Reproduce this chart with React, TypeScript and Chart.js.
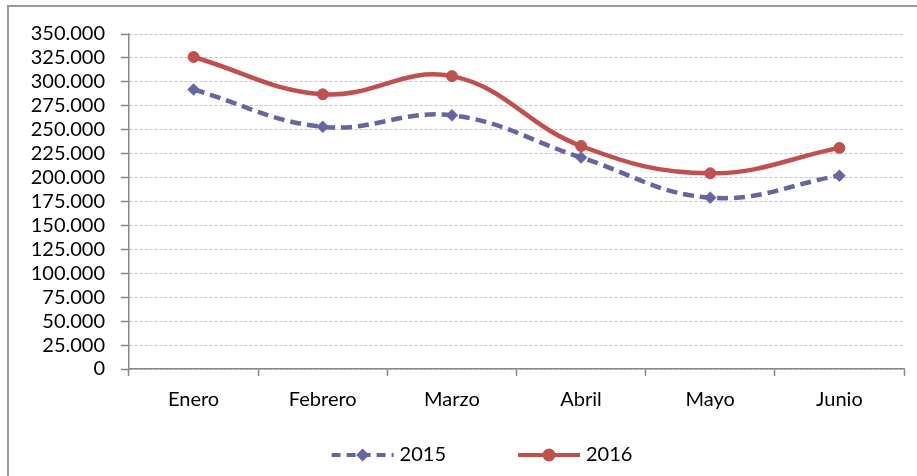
import React, { useEffect, useRef } from 'react';
import { Chart, registerables } from 'chart.js';

Chart.register(...registerables);

const categories = ['Enero', 'Febrero', 'Marzo', 'Abril', 'Mayo', 'Junio'];
const seriesNames = ['2015', '2016'];
const values2015 = [292000, 253000, 265000, 221000, 179000, 202000];
const values2016 = [326000, 287000, 306000, 233000, 204500, 231000];
const yMin = 0;
const yMax = 350000;
const yStep = 25000;

const COLOR_2015 = '#65659f';
const COLOR_2016 = '#c0504d';
const FONT_FAMILY = 'Lato';
const FONT_SIZE = 20;
const FONT = { family: FONT_FAMILY, size: FONT_SIZE };

function fmt(v: number): string {
  return Math.round(v).toString().replace(/\B(?=(\d{3})+(?!\d))/g, '.');
}

// Custom bottom legend: sample line with marker, then label text.
const LEGEND = { centerX: 482, centerY: 455, sampleW: 62, textGap: 6, itemGap: 72 };

const lineLegendPlugin = {
  id: 'lineLegend',
  afterDraw(chart: any) {
    const ctx: CanvasRenderingContext2D = chart.ctx;
    const dsList = chart.data.datasets;
    ctx.save();
    ctx.font = `${FONT_SIZE}px ${FONT_FAMILY}`;
    const widths = dsList.map(
      (ds: any) => LEGEND.sampleW + LEGEND.textGap + ctx.measureText(ds.label).width
    );
    const total =
      widths.reduce((a: number, b: number) => a + b, 0) + LEGEND.itemGap * (dsList.length - 1);
    let x = LEGEND.centerX - total / 2;
    const y = LEGEND.centerY;
    dsList.forEach((ds: any, i: number) => {
      ctx.strokeStyle = ds.borderColor;
      ctx.lineWidth = 4;
      ctx.setLineDash(ds.borderDash ? [9, 6] : []);
      ctx.lineDashOffset = 0;
      ctx.beginPath();
      ctx.moveTo(x, y);
      ctx.lineTo(x + LEGEND.sampleW, y);
      ctx.stroke();
      ctx.setLineDash([]);
      ctx.fillStyle = ds.borderColor;
      const mx = x + LEGEND.sampleW / 2;
      ctx.beginPath();
      if (ds.pointStyle === 'rectRot') {
        ctx.moveTo(mx, y - 6.5);
        ctx.lineTo(mx + 6.5, y);
        ctx.lineTo(mx, y + 6.5);
        ctx.lineTo(mx - 6.5, y);
        ctx.closePath();
      } else {
        ctx.arc(mx, y, 6.5, 0, Math.PI * 2);
      }
      ctx.fill();
      ctx.fillStyle = '#000';
      ctx.textAlign = 'left';
      ctx.textBaseline = 'middle';
      ctx.fillText(ds.label, x + LEGEND.sampleW + LEGEND.textGap, y);
      x += widths[i] + LEGEND.itemGap;
    });
    ctx.restore();
  },
};

export default function App() {
  const ref = useRef<HTMLCanvasElement | null>(null);

  useEffect(() => {
    if (!ref.current) return;
    const chart = new Chart(ref.current, {
      type: 'line',
      data: {
        labels: categories,
        datasets: [
          {
            label: seriesNames[0],
            data: values2015,
            borderColor: COLOR_2015,
            backgroundColor: COLOR_2015,
            borderWidth: 4.5,
            borderDash: [11, 6],
            tension: 0.4,
            pointStyle: 'rectRot',
            pointRadius: 6,
            pointBorderWidth: 0.5,
            pointBackgroundColor: COLOR_2015,
            pointBorderColor: COLOR_2015,
            fill: false,
          },
          {
            label: seriesNames[1],
            data: values2016,
            borderColor: COLOR_2016,
            backgroundColor: COLOR_2016,
            borderWidth: 4.5,
            tension: 0.4,
            pointStyle: 'circle',
            pointRadius: 5.5,
            pointBorderWidth: 1,
            pointBackgroundColor: COLOR_2016,
            pointBorderColor: COLOR_2016,
            fill: false,
          },
        ],
      },
      options: {
        animation: false,
        responsive: false,
        devicePixelRatio: 1,
        layout: { padding: { left: 20, right: 13, top: 34, bottom: 57 } },
        plugins: {
          tooltip: { enabled: false },
          legend: { display: false },
        },
        scales: {
          x: {
            offset: true,
            afterFit: (s: any) => {
              s.height = 50;
            },
            grid: {
              offset: true,
              drawOnChartArea: false,
              drawTicks: true,
              tickLength: 7,
              tickColor: '#878787',
              tickWidth: 1.5,
            },
            border: { display: true, color: '#878787', width: 1.5 },
            ticks: { color: '#000', font: FONT, padding: 12, maxRotation: 0, autoSkip: false },
          },
          y: {
            min: yMin,
            max: yMax,
            afterFit: (s: any) => {
              s.width = 109;
            },
            grid: {
              color: '#c4c4c4',
              lineWidth: 1,
              tickLength: 8,
              tickColor: '#878787',
              tickWidth: 1.5,
              tickBorderDash: [],
            },
            border: { display: true, color: '#878787', width: 1.5, dash: [3, 2] },
            ticks: {
              stepSize: yStep,
              autoSkip: false,
              color: '#000',
              font: FONT,
              padding: 16,
              callback: (v: any) => fmt(Number(v)),
            },
          },
        },
      },
      plugins: [lineLegendPlugin],
    });
    return () => chart.destroy();
  }, []);

  return (
    <div
      style={{
        position: 'fixed',
        left: 0,
        top: 0,
        width: 917,
        height: 476,
        overflow: 'hidden',
        background: '#fff',
      }}
    >
      <div
        style={{
          position: 'absolute',
          left: 7,
          top: 5,
          width: 940,
          height: 500,
          border: '2px solid #9a9a9a',
          boxSizing: 'border-box',
        }}
      />
      <canvas
        ref={ref}
        width={917}
        height={476}
        style={{ position: 'absolute', left: 0, top: 0, width: 917, height: 476 }}
      />
    </div>
  );
}
